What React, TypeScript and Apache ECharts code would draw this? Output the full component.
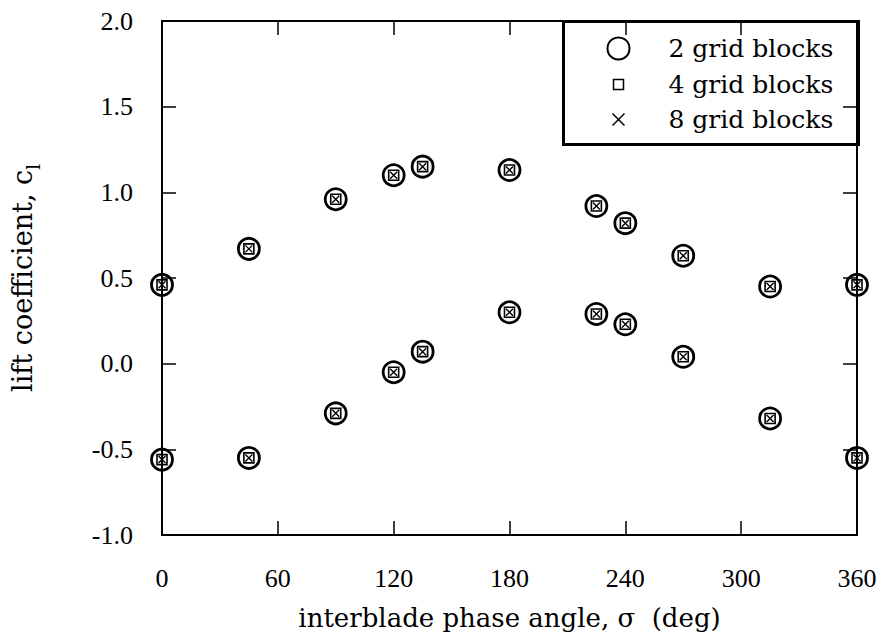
import React, { useEffect, useRef } from "react";
import * as echarts from "echarts";

// interblade phase angle (deg)
const phaseAngle = [0, 45, 90, 120, 135, 180, 225, 240, 270, 315, 360];

// lift coefficient, two branches per grid resolution
const cl2Upper = [0.46, 0.67, 0.96, 1.10, 1.15, 1.13, 0.92, 0.82, 0.63, 0.45, 0.46];
const cl2Lower = [-0.56, -0.55, -0.29, -0.05, 0.07, 0.30, 0.29, 0.23, 0.04, -0.32, -0.55];
const cl4Upper = [0.46, 0.67, 0.96, 1.10, 1.15, 1.13, 0.92, 0.82, 0.63, 0.45, 0.46];
const cl4Lower = [-0.56, -0.55, -0.29, -0.05, 0.07, 0.30, 0.29, 0.23, 0.04, -0.32, -0.55];
const cl8Upper = [0.46, 0.67, 0.96, 1.10, 1.15, 1.13, 0.92, 0.82, 0.63, 0.45, 0.46];
const cl8Lower = [-0.56, -0.55, -0.29, -0.05, 0.07, 0.30, 0.29, 0.23, 0.04, -0.32, -0.55];

const seriesNames = ["2 grid blocks", "4 grid blocks", "8 grid blocks"];
const xTicks = [0, 60, 120, 180, 240, 300, 360];
const yTicks = [-1.0, -0.5, 0.0, 0.5, 1.0, 1.5, 2.0];

const pairs = (up: number[], lo: number[]) =>
  phaseAngle.map((a, i) => [a, up[i]]).concat(phaseAngle.map((a, i) => [a, lo[i]]));

const CROSS = "path://M0,0L10,10M0,10L10,0";

export default function App() {
  const ref = useRef<HTMLDivElement>(null);
  useEffect(() => {
    document.body.style.margin = "0";
    const chart = echarts.init(ref.current!, undefined, { renderer: "svg" });
    const tickFont = { fontFamily: "Liberation Serif", fontSize: 26, color: "#000" };
    const axisLine = { show: true, onZero: false, lineStyle: { color: "#000", width: 2 } };
    const axisTick = { show: true, inside: true, length: 14, lineStyle: { color: "#000", width: 1.5 } };
    const xBase = { type: "value", min: xTicks[0], max: xTicks[xTicks.length - 1], interval: 60, splitLine: { show: false }, axisLine, axisTick };
    const yBase = { type: "value", min: yTicks[0], max: yTicks[yTicks.length - 1], interval: 0.5, splitLine: { show: false }, axisLine, axisTick };
    chart.setOption({
      animation: false,
      backgroundColor: "#fff",
      grid: { left: 162, right: 30, top: 21, bottom: 104, containLabel: false, outerBoundsMode: "none" },
      xAxis: [
        {
          ...xBase,
          position: "bottom",
          name: "interblade phase angle, σ  (deg)",
          nameLocation: "middle",
          nameGap: 70,
          nameTextStyle: { fontFamily: "DejaVu Serif", fontSize: 26, color: "#000" },
          axisLabel: { ...tickFont, margin: 30 },
        },
        { ...xBase, position: "top", axisLabel: { show: false } },
      ],
      yAxis: [
        {
          ...yBase,
          position: "left",
          name: "{a|lift coefficient, c}{s|l}",
          nameLocation: "middle",
          nameGap: 120,
          nameTextStyle: {
            rich: {
              a: { fontFamily: "DejaVu Serif", fontSize: 27, color: "#000", lineHeight: 27, verticalAlign: "top" },
              s: { fontFamily: "DejaVu Serif", fontSize: 18, color: "#000", lineHeight: 33, verticalAlign: "bottom" },
            },
          },
          axisLabel: { ...tickFont, margin: 29, formatter: (v: number) => v.toFixed(1) },
        },
        { ...yBase, position: "right", axisLabel: { show: false } },
      ],
      series: [
        {
          name: seriesNames[0], type: "scatter", clip: false, symbol: "circle", symbolSize: 21,
          itemStyle: { color: "transparent", borderColor: "#000", borderWidth: 2.8, opacity: 1 },
          data: pairs(cl2Upper, cl2Lower),
        },
        {
          name: seriesNames[1], type: "scatter", clip: false, symbol: "rect", symbolSize: 10,
          itemStyle: { color: "transparent", borderColor: "#000", borderWidth: 1.6, opacity: 1 },
          data: pairs(cl4Upper, cl4Lower),
        },
        {
          name: seriesNames[2], type: "scatter", clip: false, symbol: CROSS, symbolSize: 7,
          itemStyle: { color: "transparent", borderColor: "#000", borderWidth: 1.4, opacity: 1 },
          data: pairs(cl8Upper, cl8Lower),
        },
      ],
      graphic: [
        {
          type: "group", left: 562, top: 20,
          children: [
            { type: "rect", shape: { x: 0, y: 0, width: 295, height: 123 }, style: { fill: "#fff", stroke: "#000", lineWidth: 3 } },
            { type: "circle", shape: { cx: 55, cy: 27, r: 11 }, style: { fill: "none", stroke: "#000", lineWidth: 2 } },
            { type: "rect", shape: { x: 50, y: 58, width: 10, height: 10 }, style: { fill: "none", stroke: "#000", lineWidth: 1.5 } },
            { type: "line", shape: { x1: 49, y1: 92, x2: 61, y2: 104 }, style: { stroke: "#000", lineWidth: 1.5 } },
            { type: "line", shape: { x1: 49, y1: 104, x2: 61, y2: 92 }, style: { stroke: "#000", lineWidth: 1.5 } },
            { type: "text", x: 105, y: 27, style: { text: seriesNames[0], font: "25px 'DejaVu Serif'", fill: "#000", verticalAlign: "middle" } },
            { type: "text", x: 105, y: 63, style: { text: seriesNames[1], font: "25px 'DejaVu Serif'", fill: "#000", verticalAlign: "middle" } },
            { type: "text", x: 105, y: 98, style: { text: seriesNames[2], font: "25px 'DejaVu Serif'", fill: "#000", verticalAlign: "middle" } },
          ],
        },
      ],
    });
    return () => chart.dispose();
  }, []);
  return <div ref={ref} style={{ width: 887, height: 639 }} />;
}
